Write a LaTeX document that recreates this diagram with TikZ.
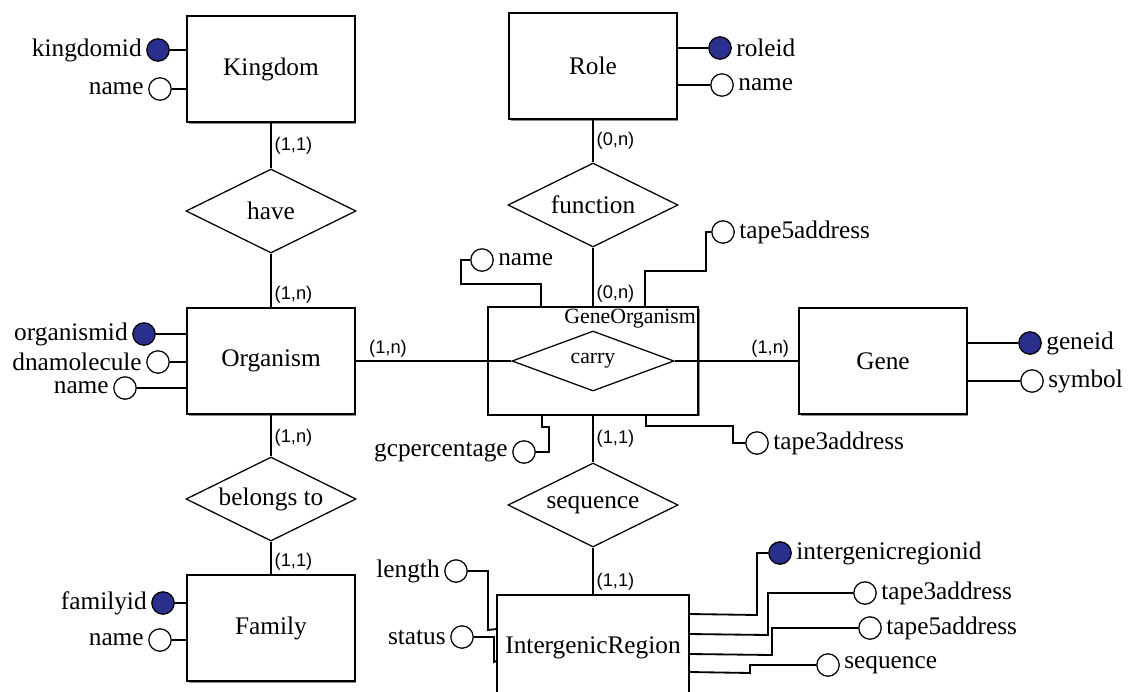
\documentclass[tikz,border=0pt]{standalone}
\usepackage{fontspec}
\setmainfont{Liberation Serif}
\setsansfont{Liberation Sans}
\usetikzlibrary{shapes.geometric,calc,shadows}
\definecolor{keyblue}{RGB}{42,46,140}
\tikzset{
  entity/.style={draw, fill=white, line width=1.4pt, minimum width=4.18cm, minimum height=2.65cm,
    drop shadow={shadow xshift=1.2pt, shadow yshift=-1.2pt, fill=black!45, opacity=1}},
  relation/.style={draw, diamond, aspect=2, inner sep=0pt, line width=0.9pt, minimum width=4.25cm, minimum height=2.1cm},
  attr/.style={draw, circle, fill=white, line width=0.9pt, minimum size=0.56cm, inner sep=0pt},
  keyattr/.style={attr, fill=keyblue},
  card/.style={font=\sffamily\fontsize{13}{15}\selectfont, inner sep=2pt},
  conn/.style={line width=1.3pt},
}
\begin{document}
\begin{tikzpicture}[x=0.025cm, y=-0.025cm, font=\fontsize{18}{21}\selectfont,
  every label/.style={inner sep=3pt}]
        \useasboundingbox (0,0) rectangle (1131,691);
        \fill[white] (0,0) rectangle (1131,691);
        \clip (0,0) rectangle (1131,691);
        \node[entity] (Kingdom) at (271,69) {Kingdom};
        \node[entity] (Organism) at (271,361) {Organism};
        \node[entity] (Family) at (271,628) {Family};
        \node[entity] (Role) at (593,66) {Role};
        \node[entity, minimum width=5.25cm, minimum height=2.68cm] (GeneOrganism) at (593,361) {};
        \node[entity] (Gene) at (883,361) {Gene};
        \node[entity, minimum width=4.78cm] (IntergenicRegion) at (593,648) {IntergenicRegion};
        \node[font=\fontsize{15.5}{18}\selectfont, anchor=north east, inner sep=2pt] (golabel) at (GeneOrganism.north east) {GeneOrganism};
        \node[relation] (have) at (271,211) {have};
        \node[relation] (belongs) at (271,499) {belongs to};
        \node[relation] (function) at (593,205) {function};
        \node[relation] (sequence) at (593,505) {sequence};
        \node[relation, aspect=2.7, minimum width=4.05cm, minimum height=1.5cm, font=\fontsize{15.5}{18}\selectfont] (carry) at (593,361) {carry};
        \node[keyattr, label={left:kingdomid}] (kid) at (158,50) {};
        \node[attr, label={left:name}] (kname) at (160,89) {};
        \node[keyattr, label={left:organismid}] (oid) at (144,334) {};
        \node[attr, label={left:dnamolecule}] (odna) at (158,362) {};
        \node[attr, label={left:name}] (oname) at (125,388) {};
        \node[keyattr, label={left:familyid}] (fid) at (163,603) {};
        \node[attr, label={left:name}] (fname) at (160,640) {};
        \node[keyattr, label={right:roleid}] (rid) at (720,48) {};
        \node[attr, label={right:name}] (rname) at (722,85) {};
        \node[keyattr, label={right:geneid}] (gid) at (1030,343) {};
        \node[attr, label={right:symbol}] (gsym) at (1032,381) {};
        \node[attr, label={right:name}] (goname) at (482,260) {};
        \node[attr, label={right:tape5address}] (gotapefive) at (723,232) {};
        \node[attr, label={left:gcpercentage}] (gogc) at (524,452) {};
        \node[attr, label={right:tape3address}] (gotapethree) at (757,443) {};
        \node[attr, label={left:length}] (irlength) at (456,571) {};
        \node[attr, label={left:status}] (irstatus) at (462,637) {};
        \node[keyattr, label={right:intergenicregionid}] (irid) at (780,553) {};
        \node[attr, label={right:tape3address}] (irtapethree) at (865,593) {};
        \node[attr, label={right:tape5address}] (irtapefive) at (870,628) {};
        \node[attr, label={right:sequence}] (irseq) at (828,665) {};
        \coordinate (go-n1) at ($(GeneOrganism.north west)+(54,0)$);
        \coordinate (go-n2) at ($(GeneOrganism.north west)+(158,0)$);
        \coordinate (go-s1) at ($(GeneOrganism.south west)+(55,0)$);
        \coordinate (go-s2) at ($(GeneOrganism.south west)+(159,0)$);
        \coordinate (ir-w1) at ($(IntergenicRegion.north west)+(0,35)$);
        \coordinate (ir-w2) at ($(IntergenicRegion.north west)+(0,67)$);
        \coordinate (ir-e1) at ($(IntergenicRegion.north east)+(0,20)$);
        \coordinate (ir-e2) at ($(IntergenicRegion.north east)+(0,40)$);
        \coordinate (ir-e3) at ($(IntergenicRegion.north east)+(0,60)$);
        \coordinate (ir-e4) at ($(IntergenicRegion.north east)+(0,78)$);
        \draw[conn] (Kingdom) -- node[card, right] {(1,1)} (have);
        \draw[conn] (have) -- node[card, pos=1, anchor=south west] {(1,n)} (Organism);
        \draw[conn] (Organism) -- node[card, pos=0.55, right] {(1,n)} (belongs);
        \draw[conn] (belongs) -- node[card, pos=1, anchor=south west] {(1,1)} (Family);
        \draw[conn] (Role) -- node[card, right] {(0,n)} (function);
        \draw[conn] (function) -- node[card, pos=1, anchor=south west] {(0,n)} (GeneOrganism);
        \draw[conn] (Organism) -- node[card, pos=0, anchor=south west, xshift=7pt] {(1,n)} (carry);
        \draw[conn] (carry) -- node[card, pos=1, anchor=south east, xshift=-4pt] {(1,n)} (Gene);
        \draw[conn] (GeneOrganism) -- node[card, right] {(1,1)} (sequence);
        \draw[conn] (sequence) -- node[card, pos=1, anchor=south west] {(1,1)} (IntergenicRegion);
        \draw[conn] (kid) -- (Kingdom.west |- kid);
        \draw[conn] (kname) -- (Kingdom.west |- kname);
        \draw[conn] (oid) -- (Organism.west |- oid);
        \draw[conn] (odna) -- (Organism.west |- odna);
        \draw[conn] (oname) -- (Organism.west |- oname);
        \draw[conn] (fid) -- (Family.west |- fid);
        \draw[conn] (fname) -- (Family.west |- fname);
        \draw[conn] (rid) -- (Role.east |- rid);
        \draw[conn] (rname) -- (Role.east |- rname);
        \draw[conn] (gid) -- (Gene.east |- gid);
        \draw[conn] (gsym) -- (Gene.east |- gsym);
        \draw[conn] (goname.west) -| (461,284) -| (go-n1);
        \draw[conn] (gotapefive.west) -| (706,271) -| (go-n2);
        \draw[conn] (gogc.east) -| (549,427) -| (go-s1);
        \draw[conn] (gotapethree.west) -| (733,426) -| (go-s2);
        \draw[conn] (irlength.east) -| (488,630) -- (ir-w1);
        \draw[conn] (irstatus.east) -| (494,662) -- (ir-w2);
        \draw[conn] (irid.west) -| (757,615) -- (ir-e1);
        \draw[conn] (irtapethree.west) -| (768,635) -- (ir-e2);
        \draw[conn] (irtapefive.west) -| (772,655) -- (ir-e3);
        \draw[conn] (irseq.west) -| (750,673) -- (ir-e4);
      \end{tikzpicture}
\end{document}
